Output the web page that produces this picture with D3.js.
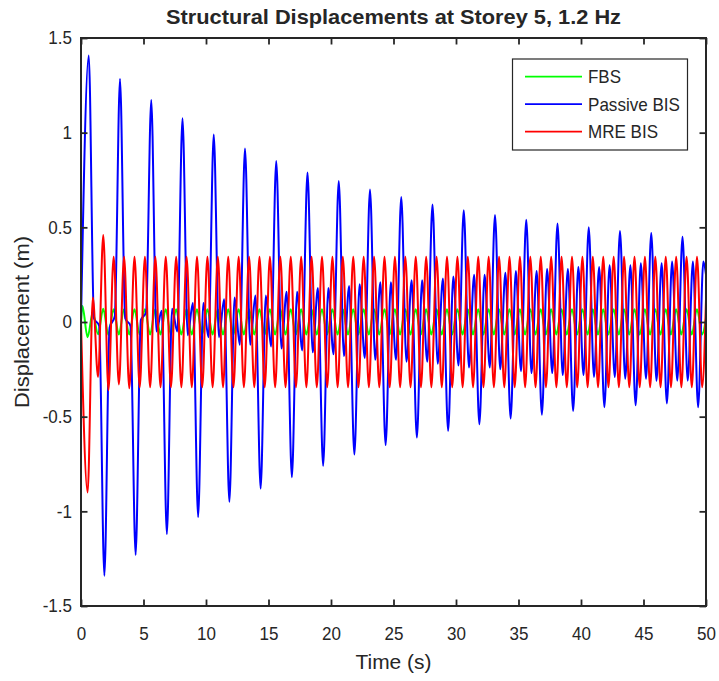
<!DOCTYPE html>
<html>
<head>
<meta charset="utf-8">
<script src="https://cdn.jsdelivr.net/npm/d3@7"></script>
<style>
  body { margin: 0; background: #ffffff; }
  svg { display: block; }
  text { font-family: "Liberation Sans", Arial, Helvetica, sans-serif; fill: #262626; }
</style>
</head>
<body>
<svg id="chart" width="719" height="681"></svg>
<script>
// ---------------- data ----------------
const seriesNames  = ["FBS", "Passive BIS", "MRE BIS"];
const seriesColors = ["#00ff00", "#0000ff", "#ff0000"];
const xTicks = [0, 5, 10, 15, 20, 25, 30, 35, 40, 45, 50];
const yTicks = [-1.5, -1, -0.5, 0, 0.5, 1, 1.5];

// successive peaks / troughs of each response are half a 1.2 Hz cycle apart
const halfCycle = 1 / (2 * 1.2);

// FBS: extrema starting at t = 0.11 s (first is a peak)
const fbsFirstTime = 0.11;
const fbsExtrema = [
  0.085, -0.080, 0.050, -0.065, 0.070, -0.068, 0.068, -0.066, 0.068, -0.066,
  0.068, -0.066, 0.068, -0.066, 0.068, -0.066, 0.068, -0.066, 0.068, -0.066,
  0.068, -0.066, 0.068, -0.066, 0.068, -0.066, 0.068, -0.066, 0.068, -0.066,
  0.068, -0.066, 0.068, -0.066, 0.068, -0.066, 0.068, -0.066, 0.068, -0.066,
  0.068, -0.066, 0.068, -0.066, 0.068, -0.066, 0.068, -0.066, 0.068, -0.066,
  0.068, -0.066, 0.068, -0.066, 0.068, -0.066, 0.068, -0.066, 0.068, -0.066,
  0.068, -0.066, 0.068, -0.066, 0.068, -0.066, 0.068, -0.066, 0.068, -0.066,
  0.068, -0.066, 0.068, -0.066, 0.068, -0.066, 0.068, -0.066, 0.068, -0.066,
  0.068, -0.066, 0.068, -0.066, 0.068, -0.066, 0.068, -0.066, 0.068, -0.066,
  0.068, -0.066, 0.068, -0.066, 0.068, -0.066, 0.068, -0.066, 0.068, -0.066,
  0.068, -0.066, 0.068, -0.066, 0.068, -0.066, 0.068, -0.066, 0.068, -0.066,
  0.068, -0.066, 0.068, -0.066, 0.068, -0.066, 0.068, -0.066, 0.068, -0.066
];
const fbsEnd = 0.02;

// Passive BIS: extrema starting at t = 0.62 s (first is the 1.41 m peak);
// one row per 2.5 s cycle of the isolated structure
const passiveFirstTime = 0.62;
const passiveExtrema = [
  1.407,  0.020, -0.020, -1.340, -0.030,  0.030,
  1.284,  0.020, -0.020, -1.230,  0.010,  0.050,
  1.173, -0.050,  0.060, -1.120,  0.070, -0.050,
  1.076, -0.070,  0.100, -1.030,  0.100, -0.080,
  0.990, -0.080,  0.120, -0.950,  0.130, -0.120,
  0.917, -0.120,  0.140, -0.880,  0.140, -0.130,
  0.850, -0.140,  0.160, -0.820,  0.160, -0.150,
  0.790, -0.160,  0.180, -0.760,  0.180, -0.170,
  0.745, -0.180,  0.190, -0.700,  0.200, -0.190,
  0.700, -0.200,  0.210, -0.650,  0.210, -0.200,
  0.660, -0.210,  0.220, -0.610,  0.220, -0.210,
  0.620, -0.220,  0.230, -0.575,  0.240, -0.230,
  0.590, -0.240,  0.250, -0.540,  0.250, -0.240,
  0.565, -0.250,  0.260, -0.510,  0.270, -0.260,
  0.540, -0.270,  0.270, -0.490,  0.280, -0.270,
  0.520, -0.280,  0.280, -0.470,  0.290, -0.280,
  0.500, -0.290,  0.290, -0.450,  0.300, -0.290,
  0.480, -0.300,  0.300, -0.440,  0.310, -0.300,
  0.470, -0.310,  0.310, -0.430,  0.320, -0.310,
  0.450, -0.310,  0.320, -0.450,  0.320
];
const passiveEnd = 0.25;

// MRE BIS: extrema starting at t = 0.53 s (first is the -0.90 m trough)
const mreFirstTime = 0.53;
const mreExtrema = [
  -0.900, 0.130, -0.290, 0.460, -0.360, 0.345, -0.330, 0.345, -0.350, 0.345,
  -0.345, 0.345, -0.345, 0.345, -0.345, 0.345, -0.345, 0.345, -0.345, 0.345,
  -0.345, 0.345, -0.345, 0.345, -0.345, 0.345, -0.345, 0.345, -0.345, 0.345,
  -0.345, 0.345, -0.345, 0.345, -0.345, 0.345, -0.345, 0.345, -0.345, 0.345,
  -0.345, 0.345, -0.345, 0.345, -0.345, 0.345, -0.345, 0.345, -0.345, 0.345,
  -0.345, 0.345, -0.345, 0.345, -0.345, 0.345, -0.345, 0.345, -0.345, 0.345,
  -0.345, 0.345, -0.345, 0.345, -0.345, 0.345, -0.345, 0.345, -0.345, 0.345,
  -0.345, 0.345, -0.345, 0.345, -0.345, 0.345, -0.345, 0.345, -0.345, 0.345,
  -0.345, 0.345, -0.345, 0.345, -0.345, 0.345, -0.345, 0.345, -0.345, 0.345,
  -0.345, 0.345, -0.345, 0.345, -0.345, 0.345, -0.345, 0.345, -0.345, 0.345,
  -0.345, 0.345, -0.345, 0.345, -0.345, 0.345, -0.345, 0.345, -0.345, 0.345,
  -0.345, 0.345, -0.345, 0.345, -0.345, 0.345, -0.345, 0.345, -0.345
];
const mreEnd = 0.12;

// ---------------- layout ----------------
const width = 719, height = 681;
const plot = { left: 81, right: 706, top: 38, bottom: 606 };
const ink = "#262626";

const svg = d3.select("#chart");
const x = d3.scaleLinear().domain([0, 50]).range([plot.left, plot.right]);
const y = d3.scaleLinear().domain([-1.5, 1.5]).range([plot.bottom, plot.top]);

function toPoints(firstTime, extrema, endValue) {
  const pts = [[0, 0]];
  extrema.forEach((v, i) => pts.push([firstTime + i * halfCycle, v]));
  pts.push([50, endValue]);
  return pts;
}

const series = [
  toPoints(fbsFirstTime, fbsExtrema, fbsEnd),
  toPoints(passiveFirstTime, passiveExtrema, passiveEnd),
  toPoints(mreFirstTime, mreExtrema, mreEnd)
];

svg.append("rect").attr("width", width).attr("height", height).attr("fill", "#ffffff");

svg.append("defs").append("clipPath").attr("id", "plotClip")
  .append("rect")
  .attr("x", plot.left).attr("y", plot.top)
  .attr("width", plot.right - plot.left).attr("height", plot.bottom - plot.top);

// ---------------- lines ----------------
const line = d3.line()
  .x(d => x(d[0]))
  .y(d => y(d[1]))
  .curve(d3.curveMonotoneX);

const lines = svg.append("g").attr("clip-path", "url(#plotClip)");
series.forEach((pts, i) => {
  lines.append("path")
    .datum(pts)
    .attr("fill", "none")
    .attr("stroke", seriesColors[i])
    .attr("stroke-width", 2)
    .attr("stroke-linejoin", "round")
    .attr("d", line);
});

// ---------------- axes ----------------
const tickLen = 6.5;
const numFmt = d => String(d);   // plain hyphen for negatives, e.g. "-1.5"
function styleAxis(g) {
  g.select(".domain").remove();
  g.selectAll(".tick line").attr("stroke", ink).attr("stroke-width", 1.8);
  g.selectAll(".tick text").attr("font-size", 18.5).attr("fill", ink);
}

svg.append("g").attr("transform", `translate(0,${plot.bottom})`)
  .call(d3.axisBottom(x).tickValues(xTicks).tickFormat(numFmt)
    .tickSizeInner(-tickLen).tickSizeOuter(0).tickPadding(21))
  .call(styleAxis);
svg.append("g").attr("transform", `translate(0,${plot.top})`)
  .call(d3.axisTop(x).tickValues(xTicks).tickFormat("")
    .tickSizeInner(-tickLen).tickSizeOuter(0))
  .call(styleAxis);
svg.append("g").attr("transform", `translate(${plot.left},0)`)
  .call(d3.axisLeft(y).tickValues(yTicks).tickFormat(numFmt)
    .tickSizeInner(-tickLen).tickSizeOuter(0).tickPadding(9))
  .call(styleAxis);
svg.append("g").attr("transform", `translate(${plot.right},0)`)
  .call(d3.axisRight(y).tickValues(yTicks).tickFormat("")
    .tickSizeInner(-tickLen).tickSizeOuter(0))
  .call(styleAxis);

// box
svg.append("rect")
  .attr("x", plot.left).attr("y", plot.top)
  .attr("width", plot.right - plot.left).attr("height", plot.bottom - plot.top)
  .attr("fill", "none").attr("stroke", ink).attr("stroke-width", 2);

// ---------------- labels ----------------
svg.append("text")
  .attr("x", (plot.left + plot.right) / 2).attr("y", 24)
  .attr("text-anchor", "middle").attr("font-size", 20.5).attr("font-weight", "bold")
  .attr("fill", "#000")
  .attr("textLength", 455).attr("lengthAdjust", "spacingAndGlyphs")
  .text("Structural Displacements at Storey 5, 1.2 Hz");

svg.append("text")
  .attr("x", (plot.left + plot.right) / 2).attr("y", 669)
  .attr("text-anchor", "middle").attr("font-size", 21)
  .attr("textLength", 76).attr("lengthAdjust", "spacingAndGlyphs")
  .text("Time (s)");

svg.append("text")
  .attr("transform", `translate(29,${(plot.top + plot.bottom) / 2}) rotate(-90)`)
  .attr("text-anchor", "middle").attr("font-size", 21)
  .attr("textLength", 172).attr("lengthAdjust", "spacingAndGlyphs")
  .text("Displacement (m)");

// slightly narrower glyphs for tick labels
svg.selectAll(".tick text").each(function () {
  const w = this.getComputedTextLength();
  if (w > 0) d3.select(this).attr("textLength", w * 0.92).attr("lengthAdjust", "spacingAndGlyphs");
});

// ---------------- legend ----------------
const legend = svg.append("g");
legend.append("rect")
  .attr("x", 512.5).attr("y", 59).attr("width", 175).attr("height", 91)
  .attr("fill", "#ffffff").attr("stroke", ink).attr("stroke-width", 1.2);
const legendWidths = [33, 92, 70];
seriesNames.forEach((name, i) => {
  const ly = 76.7 + i * 27.5;
  legend.append("line")
    .attr("x1", 525).attr("x2", 582).attr("y1", ly).attr("y2", ly)
    .attr("stroke", seriesColors[i]).attr("stroke-width", 1.8);
  legend.append("text")
    .attr("x", 588).attr("y", ly + 6.5).attr("font-size", 18.5)
    .attr("textLength", legendWidths[i]).attr("lengthAdjust", "spacingAndGlyphs")
    .text(name);
});
</script>
</body>
</html>
